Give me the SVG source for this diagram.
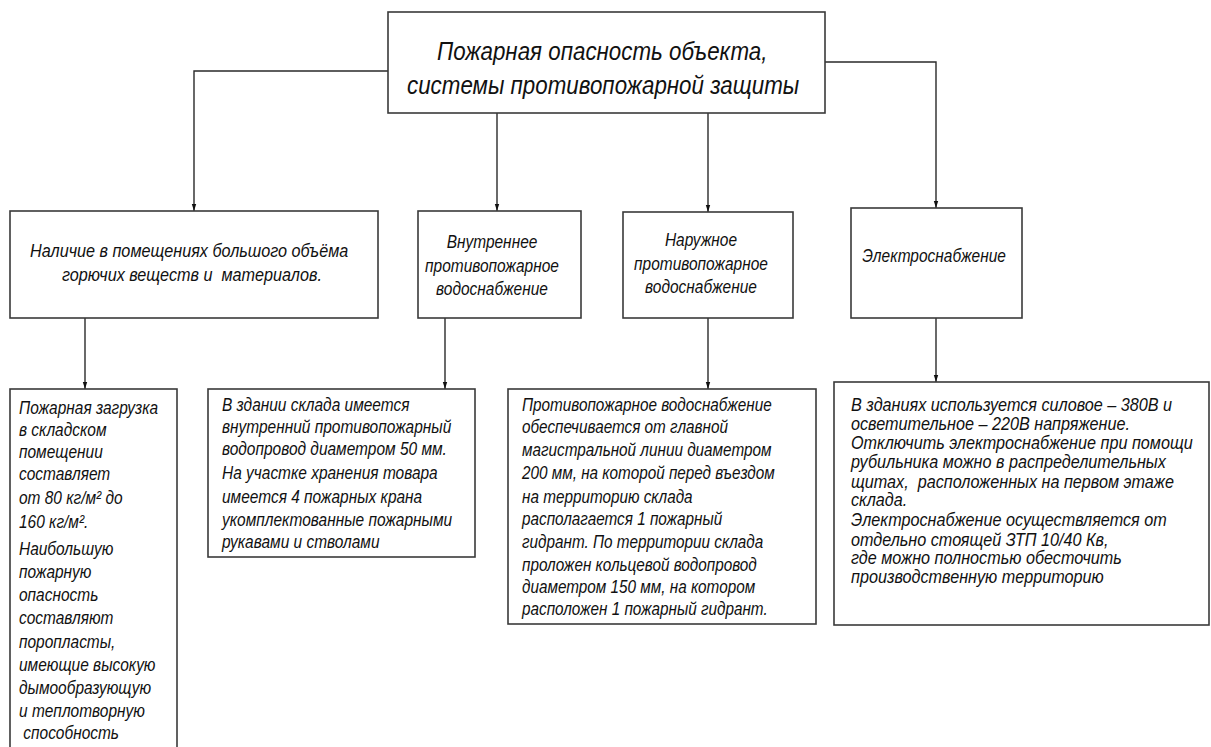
<svg xmlns="http://www.w3.org/2000/svg" width="1211" height="747" viewBox="0 0 1211 747">
<style>
.box{fill:#fff;stroke:#3a3a3a;stroke-width:1.6}
.ln{fill:none;stroke:#2a2a2a;stroke-width:1.4}
text{font-family:"Liberation Sans","DejaVu Sans",sans-serif;font-style:italic;fill:#111;white-space:pre}
.t26{font-size:26px}
.t18{font-size:18px}
.mid{text-anchor:middle}
</style>
<defs>
<marker id="arr" markerUnits="userSpaceOnUse" markerWidth="8" markerHeight="6" refX="7" refY="3" orient="auto">
<path d="M0,0.8 L7,3 L0,5.2 z" fill="#111"/>
</marker>
</defs>
<rect width="1211" height="747" fill="#fff"/>
<g id="connectors">
<polyline class="ln" points="388,71 194,71 194,211" marker-end="url(#arr)"/>
<line class="ln" x1="497" y1="113" x2="497" y2="211" marker-end="url(#arr)"/>
<line class="ln" x1="708" y1="113" x2="708" y2="212" marker-end="url(#arr)"/>
<polyline class="ln" points="825,62 936,62 936,208" marker-end="url(#arr)"/>
<line class="ln" x1="85" y1="318" x2="85" y2="389" marker-end="url(#arr)"/>
<line class="ln" x1="445" y1="318" x2="445" y2="389" marker-end="url(#arr)"/>
<line class="ln" x1="708" y1="318" x2="708" y2="389" marker-end="url(#arr)"/>
<line class="ln" x1="936" y1="318" x2="936" y2="382" marker-end="url(#arr)"/>
</g>
<g id="n0">
<rect class="box" x="388" y="12" width="437" height="101"/>
<text class="t26" transform="translate(437 0) scale(0.86 1)"><tspan x="0" y="60">Пожарная опасность объекта,</tspan></text>
<text class="t26" transform="translate(407 0) scale(0.86 1)"><tspan x="0" y="94">системы противопожарной защиты</tspan></text>
</g>
<g id="n1">
<rect class="box" x="10" y="211" width="368" height="107"/>
<text class="t18" transform="translate(30 0) scale(0.9 1)"><tspan x="0" y="257">Наличие в помещениях большого объёма</tspan></text>
<text class="t18" transform="translate(62 0) scale(0.9 1)"><tspan x="0" y="281">горючих веществ и  материалов.</tspan></text>
</g>
<g id="n2">
<rect class="box" x="418" y="211" width="163" height="107"/>
<text class="t18 mid" transform="translate(492 0) scale(0.86 1)"><tspan x="0" y="248">Внутреннее</tspan><tspan x="0" y="272">противопожарное</tspan><tspan x="0" y="295">водоснабжение</tspan></text>
</g>
<g id="n3">
<rect class="box" x="623" y="212" width="170" height="106"/>
<text class="t18 mid" transform="translate(701 0) scale(0.86 1)"><tspan x="0" y="246">Наружное</tspan><tspan x="0" y="270">противопожарное</tspan><tspan x="0" y="293">водоснабжение</tspan></text>
</g>
<g id="n4">
<rect class="box" x="851" y="208" width="171" height="110"/>
<text class="t18 mid" transform="translate(934 0) scale(0.86 1)"><tspan x="0" y="262">Электроснабжение</tspan></text>
</g>
<g id="n5">
<rect class="box" x="10" y="389" width="167" height="380"/>
<text class="t18" transform="translate(19 0) scale(0.86 1)"><tspan x="0" y="414">Пожарная загрузка</tspan><tspan x="0" y="436">в складском</tspan><tspan x="0" y="458">помещении</tspan><tspan x="0" y="480">составляет</tspan><tspan x="0" y="504">от 80 кг/м² до</tspan><tspan x="0" y="528">160 кг/м².</tspan><tspan x="0" y="555">Наибольшую</tspan><tspan x="0" y="578">пожарную</tspan><tspan x="0" y="601">опасность</tspan><tspan x="0" y="624">составляют</tspan><tspan x="0" y="648">поропласты,</tspan><tspan x="0" y="671">имеющие высокую</tspan><tspan x="0" y="694">дымообразующую</tspan><tspan x="0" y="717">и теплотворную</tspan><tspan x="0" y="739"> способность</tspan></text>
</g>
<g id="n6">
<rect class="box" x="208" y="389" width="267" height="168"/>
<text class="t18" transform="translate(222 0) scale(0.86 1)"><tspan x="0" y="411">В здании склада имеется</tspan><tspan x="0" y="433">внутренний противопожарный</tspan><tspan x="0" y="455">водопровод диаметром 50 мм.</tspan><tspan x="0" y="479">На участке хранения товара</tspan><tspan x="0" y="503">имеется 4 пожарных крана</tspan><tspan x="0" y="526">укомплектованные пожарными</tspan><tspan x="0" y="548">рукавами и стволами</tspan></text>
</g>
<g id="n7">
<rect class="box" x="508" y="389" width="308" height="235"/>
<text class="t18" transform="translate(522 0) scale(0.85 1)"><tspan x="0" y="411">Противопожарное водоснабжение</tspan><tspan x="0" y="433">обеспечивается от главной</tspan><tspan x="0" y="456">магистральной линии диаметром</tspan><tspan x="0" y="479">200 мм, на которой перед въездом</tspan><tspan x="0" y="503">на территорию склада</tspan><tspan x="0" y="525">располагается 1 пожарный</tspan><tspan x="0" y="548">гидрант. По территории склада</tspan><tspan x="0" y="571">проложен кольцевой водопровод</tspan><tspan x="0" y="593">диаметром 150 мм, на котором</tspan><tspan x="0" y="615">расположен 1 пожарный гидрант.</tspan></text>
</g>
<g id="n8">
<rect class="box" x="834" y="382" width="375" height="243"/>
<text class="t18" transform="translate(851 0) scale(0.9 1)"><tspan x="0" y="411">В зданиях используется силовое – 380В и</tspan><tspan x="0" y="430">осветительное – 220В напряжение.</tspan><tspan x="0" y="449">Отключить электроснабжение при помощи</tspan><tspan x="0" y="468">рубильника можно в распределительных</tspan><tspan x="0" y="488">щитах,  расположенных на первом этаже</tspan><tspan x="0" y="506">склада.</tspan><tspan x="0" y="526">Электроснабжение осуществляется от</tspan><tspan x="0" y="546">отдельно стоящей ЗТП 10/40 Кв,</tspan><tspan x="0" y="564">где можно полностью обесточить</tspan><tspan x="0" y="583">производственную территорию</tspan></text>
</g>
</svg>
